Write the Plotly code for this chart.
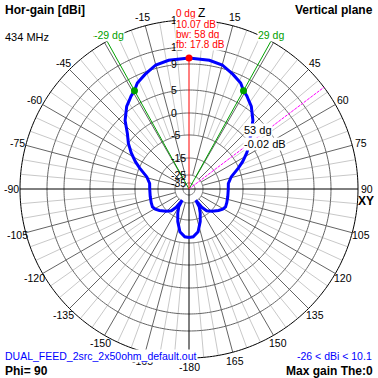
import numpy as np
import plotly.graph_objects as go

W = H = 378

# ---- scale: ring levels (dBi) and their radius on the plot (outer ring = 169)
ring_db = [-35, -25, -15, -5, 0, 5, 9, 12, 15]
ring_r = [6, 14, 31, 54, 76, 99, 125, 142, 169]
ring_text = ["-35", "-25", "-15", "-5", "0", "5", "9", "12", "15"]

# ---- angle tick labels (degrees, 0 = Z at top, clockwise)
angle_ticks = [-165, -150, -135, -120, -105, -90, -75, -60, -45, -30, -15,
               15, 30, 45, 60, 75, 90, 105, 120, 135, 150, 165, 180]
angle_text = ["-165", "-150", "-135", "-120", "-105", "-90", "-75", "-60", "-45", "-30", "-15",
              "15", "30", "45", "60", "75", "90", "105", "120", "135", "150", "165", "-180"]

# ---- radiation pattern (vertical plane, dBi)
pattern_theta = [-180, -175, -168, -161, -155, -150, -149, -145, -141, -134, -126, -121,
                 -116, -110, -101, -90, -82, -74, -67, -63, -58, -53, -48, -43, -37,
                 -34, -32, -29, -26, -21, -15, -9, 0,
                 9, 15, 21, 26, 29, 32, 34, 37, 43, 48, 53, 58, 63, 67, 74, 82, 90,
                 101, 110, 116, 121, 126, 134, 141, 145, 149, 150, 155, 161, 168, 175, 180]
pattern_db = [-7.4, -7.6, -9.5, -13.5, -17.6, -21.2, -26.0, -20.1, -16.8, -14.6, -12.6, -11.4,
              -10.8, -11.0, -11.3, -11.4, -11.2, -9.4, -5.2, -3.6, -1.8, -0.02, 1.5, 3.85, 5.7,
              6.2, 6.6, 7.07, 7.9, 8.65, 9.6, 9.95, 10.07,
              9.95, 9.6, 8.65, 7.9, 7.07, 6.6, 6.2, 5.7, 3.85, 1.5, -0.02, -1.8, -3.6, -5.2, -9.4, -11.2, -11.4,
              -11.3, -11.0, -10.8, -11.4, -12.6, -14.6, -16.8, -20.1, -26.0, -21.2, -17.6, -13.5, -9.5, -7.6, -7.4]

max_theta, max_db = 0, 10.07
bw_theta = [-29, 29]
bw_db = [7.07, 7.07]
cur_theta, cur_db = 53, -0.02


def rad(db):
    return np.interp(db, ring_db, ring_r)


R_OUT = ring_r[-1]
R_LAB = 178
R_DARK0 = ring_r[1]
R_LIGHT0 = ring_r[3]
CX = CY = 189  # polar centre in px (radial unit = 1 px)

DARK = "#646464"
LIGHT = "#c8c8c8"
FONT = "Liberation Sans"

fig = go.Figure()

# light spokes every 5 deg
th, rr = [], []
for a in range(0, 360, 5):
    if a % 15:
        th += [a, a, None]
        rr += [R_LIGHT0, R_OUT, None]
fig.add_trace(go.Scatterpolar(theta=th, r=rr, mode="lines",
                              line=dict(color=LIGHT, width=1), hoverinfo="skip"))

# dark spokes every 15 deg
th, rr = [], []
for a in range(0, 360, 15):
    if a % 90:
        th += [a, a, None]
        rr += [R_DARK0, R_OUT, None]
fig.add_trace(go.Scatterpolar(theta=th, r=rr, mode="lines",
                              line=dict(color=DARK, width=1), hoverinfo="skip"))

# rings
circ = list(np.arange(0, 361, 1))
for r in ring_r[:-1]:
    fig.add_trace(go.Scatterpolar(theta=circ, r=[r] * len(circ), mode="lines",
                                  line=dict(color=DARK, width=1), hoverinfo="skip"))
fig.add_trace(go.Scatterpolar(theta=circ, r=[R_OUT] * len(circ), mode="lines",
                              line=dict(color="black", width=1), hoverinfo="skip"))

# axes
fig.add_trace(go.Scatterpolar(theta=[90, 90, None, -90, -90, None, 180, 180],
                              r=[0, R_OUT, None, 0, R_OUT, None, 0, R_OUT],
                              mode="lines", line=dict(color="black", width=1), hoverinfo="skip"))

# beamwidth lines
fig.add_trace(go.Scatterpolar(theta=[bw_theta[0], bw_theta[0], None, bw_theta[1], bw_theta[1]],
                              r=[0, R_OUT, None, 0, R_OUT], mode="lines",
                              line=dict(color="#00a000", width=1), hoverinfo="skip"))
# cursor line
fig.add_trace(go.Scatterpolar(theta=[cur_theta, cur_theta], r=[0, R_OUT], mode="lines",
                              line=dict(color="#ff00ff", width=1, dash="3px,1px"), hoverinfo="skip"))
# max direction
fig.add_trace(go.Scatterpolar(theta=[max_theta, max_theta], r=[0, rad(max_db)], mode="lines",
                              line=dict(color="#ff0000", width=1), hoverinfo="skip"))

# pattern
fig.add_trace(go.Scatterpolar(theta=pattern_theta, r=rad(pattern_db), mode="lines",
                              line=dict(color="#0000ff", width=3), hoverinfo="skip"))

# markers
fig.add_trace(go.Scatterpolar(theta=bw_theta, r=rad(bw_db), mode="markers",
                              marker=dict(color="#00a000", size=7), hoverinfo="skip"))
fig.add_trace(go.Scatterpolar(theta=[max_theta], r=[rad(max_db)], mode="markers",
                              marker=dict(color="#ff0000", size=7), hoverinfo="skip"))

fig.update_layout(
    width=W, height=H, margin=dict(l=0, r=0, t=0, b=0),
    paper_bgcolor="white", plot_bgcolor="white", showlegend=False,
    polar=dict(
        domain=dict(x=[0, 1], y=[0, 1]), bgcolor="white",
        radialaxis=dict(range=[0, 189], visible=False, showgrid=False, showline=False,
                        showticklabels=False, ticks=""),
        angularaxis=dict(rotation=90, direction="clockwise", visible=False, showgrid=False,
                         showline=False, showticklabels=False, ticks=""),
    ),
)

anns = []


def ann(text, x, y, xa="left", size=11, color="black", bold=False, bg=None):
    d = dict(text=("<b>%s</b>" % text) if bold else text, x=x / W, y=1 - y / H,
             xref="paper", yref="paper", xanchor=xa, yanchor="middle", showarrow=False,
             font=dict(family=FONT, size=size, color=color), borderpad=0)
    if bg:
        d["bgcolor"] = bg
    anns.append(d)


# angle labels around the outer ring
for a, t in zip(angle_ticks, angle_text):
    ang = np.radians(a)
    ann(t, CX + R_LAB * np.sin(ang), CY - R_LAB * np.cos(ang), xa="center", size=10.5)

# ring labels on the vertical axis
for db, t in zip(ring_db, ring_text):
    ann(t, 170, CY - float(rad(db)), size=10.5)

ann("Hor-gain [dBi]", 4, 10, bold=True, size=12)
ann("434 MHz", 4, 37, size=11)
ann("Vertical plane", 374, 10, xa="right", bold=True, size=12)
ann("Z", 197, 13, size=12)
ann("0 dg", 175, 13, size=10, color="#ff0000", bg="white")
ann("10.07 dB", 175, 24, size=10, color="#ff0000", bg="white")
ann("bw: 58 dg", 175, 34, size=10, color="#ff0000", bg="white")
ann("fb: 17.8 dB", 175, 44, size=10, color="#ff0000", bg="white")
ann("-29 dg", 93, 35, size=10.5, color="#00a000", bg="white")
ann("29 dg", 257, 35, size=10.5, color="#00a000", bg="white")
ann("53 dg", 243, 130, size=11, bg="white")
ann("-0.02 dB", 243, 144, size=11, bg="white")
ann("XY", 366, 201, xa="center", bold=True, size=12)
ann("DUAL_FEED_2src_2x50ohm_default.out", 4, 356, size=10.5, color="#0000ff", bg="white")
ann("Phi= 90", 4, 371, bold=True, size=12)
ann("-26 &lt; dBi &lt; 10.1", 373, 356, xa="right", size=10.5, color="#0000ff", bg="white")
ann("Max gain The:0", 374, 371, xa="right", bold=True, size=12)

fig.update_layout(annotations=anns)
fig.write_html("out.html", config={"displayModeBar": False},
               post_script="document.body.style.margin='0px';document.body.style.padding='0px';")
